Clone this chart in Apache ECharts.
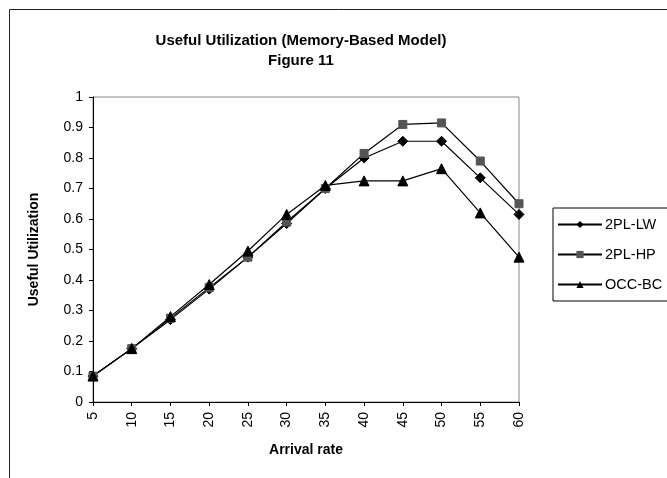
<!DOCTYPE html>
<html>
<head>
<meta charset="utf-8">
<title>Useful Utilization (Memory-Based Model)</title>
<script src="https://cdn.jsdelivr.net/npm/echarts@6/dist/echarts.min.js"></script>
<style>
  html, body { margin: 0; padding: 0; background: #fff; }
  #chart { width: 667px; height: 478px; }
</style>
</head>
<body>
<div id="chart"></div>
<script>
// arrival rates on the x axis
const arrivalRates = ['5', '10', '15', '20', '25', '30', '35', '40', '45', '50', '55', '60']

// useful utilization per protocol
const lw2pl = [0.085, 0.175, 0.27, 0.37, 0.475, 0.585, 0.70, 0.80, 0.855, 0.855, 0.735, 0.615]
const hp2pl = [0.085, 0.175, 0.275, 0.375, 0.475, 0.59, 0.70, 0.815, 0.91, 0.915, 0.79, 0.65]
const occBc = [0.085, 0.175, 0.28, 0.385, 0.495, 0.615, 0.71, 0.725, 0.725, 0.765, 0.62, 0.475]

const seriesNames = ['2PL-LW', '2PL-HP', 'OCC-BC']

const font = "'Liberation Sans', Arial, sans-serif"

const chart = echarts.init(document.getElementById('chart'))

const lineSeries = (name, data, symbol, size, color) => ({
  name,
  type: 'line',
  data,
  symbol,
  symbolSize: size,
  showSymbol: true,
  lineStyle: { color: '#000', width: 1.2 },
  itemStyle: { color, borderColor: color },
  emphasis: { disabled: true },
  animation: false
})

chart.setOption({
  backgroundColor: '#fff',
  animation: false,
  title: {
    text: 'Useful Utilization (Memory-Based Model)\nFigure 11',
    left: 296,
    textAlign: 'center',
    top: 26,
    textStyle: {
      fontFamily: font,
      fontSize: 15,
      fontWeight: 'bold',
      color: '#000',
      lineHeight: 20
    }
  },
  graphic: [
    {
      type: 'rect',
      left: 7,
      top: 7,
      silent: true,
      shape: { width: 720, height: 520 },
      style: { fill: 'none', stroke: '#222', lineWidth: 1 }
    }
  ],
  legend: {
    data: seriesNames,
    orient: 'vertical',
    left: 553,
    top: 208,
    itemWidth: 44,
    itemHeight: 9,
    itemGap: 15,
    padding: [9, 20, 9, 4],
    borderColor: '#000',
    borderWidth: 1,
    backgroundColor: '#fff',
    textStyle: { fontFamily: font, fontSize: 14.5, color: '#000', padding: [0, 0, 0, -2] }
  },
  grid: {
    left: 93,
    right: 148,
    top: 97,
    bottom: 76,
    show: true,
    borderColor: '#888',
    borderWidth: 1
  },
  xAxis: {
    type: 'category',
    data: arrivalRates,
    boundaryGap: false,
    name: 'Arrival rate',
    nameLocation: 'middle',
    nameGap: 41,
    nameTextStyle: { fontFamily: font, fontSize: 14, fontWeight: 'bold', color: '#000' },
    axisLine: { lineStyle: { color: '#000', width: 1 } },
    axisTick: { alignWithLabel: true, length: 4, lineStyle: { color: '#000' } },
    axisLabel: { rotate: 90, margin: 10, fontFamily: font, fontSize: 14, color: '#000' },
    splitLine: { show: false }
  },
  yAxis: {
    type: 'value',
    min: 0,
    max: 1,
    interval: 0.1,
    name: 'Useful Utilization',
    nameLocation: 'middle',
    nameGap: 52,
    nameTextStyle: { fontFamily: font, fontSize: 14, fontWeight: 'bold', color: '#000' },
    axisLine: { show: true, lineStyle: { color: '#000', width: 1 } },
    axisTick: { show: true, length: 4, lineStyle: { color: '#000' } },
    axisLabel: { margin: 10, fontFamily: font, fontSize: 14, color: '#000' },
    splitLine: { show: false }
  },
  series: [
    lineSeries('2PL-LW', lw2pl, 'diamond', 10, '#000'),
    lineSeries('2PL-HP', hp2pl, 'rect', 8, '#555'),
    lineSeries('OCC-BC', occBc, 'triangle', 10, '#000')
  ]
})
</script>
</body>
</html>
